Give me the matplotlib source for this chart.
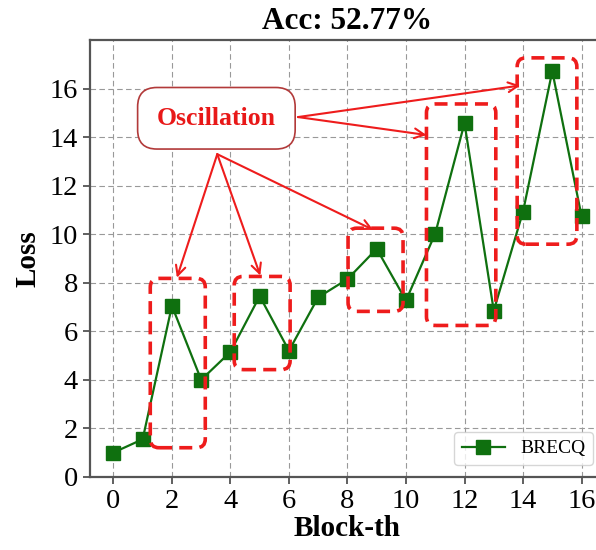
import matplotlib
matplotlib.use('Agg')
from matplotlib import pyplot as plt
from matplotlib.patches import FancyBboxPatch
import numpy as np

# values
blocks = list(range(17))
loss = [1.0, 1.55, 7.05, 4.0, 5.15, 7.45, 5.2, 7.4, 8.15,
        9.4, 7.27, 10.03, 14.58, 6.85, 10.93, 16.72, 10.75]
acc = 52.77

# oscillation regions: (x0, x1, y0, y1)
regions = [(1.26, 3.14, 1.2, 8.18),
           (4.13, 6.04, 4.42, 8.26),
           (8.02, 9.90, 6.82, 10.25),
           (10.70, 13.07, 6.24, 15.37),
           (13.80, 15.84, 9.59, 17.27)]

# arrow starts/ends for the label
arrows = [((3.55, 13.3), (2.17, 8.21)),
          ((3.55, 13.3), (5.02, 8.30)),
          ((3.55, 13.3), (8.88, 10.18)),
          ((6.31, 14.83), (10.70, 14.09)),
          ((6.31, 14.83), (13.90, 16.13))]

plt.rcParams['font.family'] = 'serif'
plt.rcParams['font.serif'] = ['Times New Roman', 'Liberation Serif', 'DejaVu Serif']

fig = plt.figure(figsize=(5.96, 5.5), dpi=100)
ax = fig.add_axes([0.151, 0.133, 0.864, 0.794])

ax.plot(blocks, loss, color='#0f700f', marker='s', markersize=9.5,
        linewidth=1.6, label='BRECQ', zorder=3)

for (x0, x1, y0, y1) in regions:
    box = FancyBboxPatch((x0, y0), x1 - x0, y1 - y0,
                         boxstyle='round,pad=0,rounding_size=0.3',
                         mutation_aspect=1.21, fill=False,
                         edgecolor='#ee1c1c', linewidth=2.6,
                         linestyle=(0, (3.6, 2)), zorder=4)
    ax.add_patch(box)

ax.text(3.52, 14.78, 'Oscillation', color='#e81818', fontsize=18.5,
        fontweight='bold', ha='center', va='center', zorder=6,
        bbox=dict(boxstyle='round,pad=0.75', fc='white', ec='#b23a3a', lw=1.2))

for (start, end) in arrows:
    ax.annotate('', xy=end, xytext=start, zorder=5,
                arrowprops=dict(arrowstyle='->,head_length=0.7,head_width=0.35',
                                color='#ee1c1c', lw=1.5, shrinkA=0, shrinkB=0))

ax.set_xlim(-0.8, 16.8)
ax.set_ylim(0, 18)
ax.set_xticks(range(0, 17, 2))
ax.set_yticks(range(0, 17, 2))
ax.tick_params(labelsize=20.5, length=5, width=1.2, color='#444444')
ax.grid(True, linestyle=(0, (5, 3)), color='#999999', linewidth=0.8)
ax.set_axisbelow(True)
for s in ax.spines.values():
    s.set_color('#555555')
    s.set_linewidth(1.6)

ax.set_title('Acc: %.2f%%' % acc, fontsize=22.5, fontweight='bold', pad=8)
ax.set_xlabel('Block-th', fontsize=21, fontweight='bold', labelpad=1)
ax.set_ylabel('Loss', fontsize=21, fontweight='bold', labelpad=6)

ax.legend(loc='lower right', fontsize=14, fancybox=True, framealpha=0.8,
          edgecolor='#cccccc', handlelength=2.2, borderaxespad=0.6)

plt.savefig('out.png', dpi=100)
